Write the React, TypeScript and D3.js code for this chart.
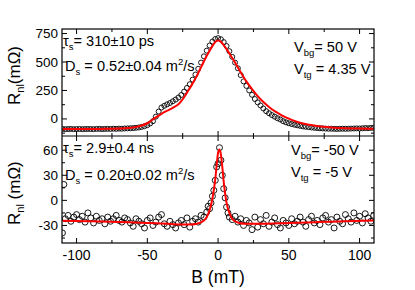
import React from "react";
import * as d3 from "d3";

// top panel: Vbg = 50 V, Vtg = 4.35 V
const topB = d3.range(-110, 111, 2);
const topR = [
  -88, -90, -89, -88, -90, -89, -88, -90, -89, -88, -89, -90, -88, -87, -89, -88, -87, -88, -86, -87,
  -85, -86, -84, -83, -82, -80, -78, -75, -70, -64, -55, -40, -20, 20, 65, 100, 115, 128, 140, 155,
  170, 188, 210, 240, 272, 305, 345, 390, 440, 495, 550, 600, 645, 680, 702, 710, 700, 675, 640, 595,
  545, 495, 445, 385, 330, 290, 250, 212, 175, 145, 118, 92, 68, 50, 34, 20, 6, -5, -20, -30,
  -38, -45, -51, -56, -61, -66, -69, -72, -75, -78, -80, -82, -83, -85, -86, -86, -87, -88, -87, -86,
  -87, -86, -85, -84, -83, -84, -82, -80, -81, -79, -78,
];
const topFitB = [-110, -100, -90, -80, -70, -60, -55, -50, -45, -40, -36, -32, -28, -24, -20, -16, -12, -8, -4, -2, 0, 2, 4, 8, 12, 16, 20, 24, 28, 32, 36, 40, 45, 50, 55, 60, 70, 80, 90, 100, 110];
const topFitR = [-88, -88, -88, -87, -84, -75, -62, -38, 5, 45, 72, 98, 128, 190, 270, 355, 455, 555, 640, 675, 688, 677, 648, 575, 495, 410, 330, 262, 200, 148, 105, 68, 32, 2, -22, -40, -62, -75, -82, -85, -86];

// bottom panel: Vbg = -50 V, Vtg = -5 V
const botB = [
  -110, -109, -108, -106, -104, -102, -100, -98, -96, -94, -92, -90, -88, -86, -84, -82, -80, -78, -76, -74,
  -72, -70, -68, -66, -64, -62, -60, -58, -56, -54, -52, -50, -48, -46, -44, -42, -40, -38, -36, -34,
  -32, -30, -28, -26, -24, -22, -20, -18, -16, -14, -12, -10, -8, -7, -6, -5, -4, -3, -2, -1,
  0, 1, 2, 3, 4, 5, 6, 7, 8, 10, 12, 14, 16, 18, 20, 22, 24, 26, 28, 30,
  32, 34, 36, 38, 40, 42, 44, 46, 48, 50, 52, 54, 56, 58, 60, 62, 64, 66, 68, 70,
  72, 74, 76, 78, 80, 82, 84, 86, 88, 90, 92, 94, 96, 98, 100, 102, 104, 106, 108, 110,
];
const botR = [
  -39, 19, -22, -18, -25, -20, -17, -23, -19, -26, -15, -21, -27, -19, -24, -22, -28, -20, -25, -22,
  -18, -24, -26, -21, -23, -27, -31, -22, -25, -28, -33, -24, -21, -30, -26, -20, -17, -28, -31, -25,
  -29, -33, -27, -24, -29, -21, -32, -25, -22, -26, -18, -20, -14, -7, -10, -3, 5, 12, 24, 40,
  44, 63, 48, 30, 14, 3, -8, -15, -20, -23, -19, -26, -22, -30, -24, -27, -35, -20, -32, -23,
  -28, -18, -31, -26, -21, -29, -33, -24, -27, -30, -22, -28, -25, -20, -26, -31, -23, -19, -27, -24,
  -29, -21, -18, -26, -23, -33, -20, -25, -28, -17, -22, -26, -15, -24, -19, -27, -16, -21, -25, -18,
];
const botFitB = [-110, -90, -70, -50, -35, -25, -20, -15, -10, -8, -6, -4, -2, -1, 0, 1, 2, 3, 4, 5, 6, 8, 10, 12, 15, 20, 30, 50, 70, 90, 110];
const botFitR = [-24.5, -25, -26, -27, -28, -29, -29, -28, -24, -20, -12, 2, 25, 42, 57, 61, 55, 40, 22, 8, -3, -15, -22, -25, -27, -28, -28, -27, -26, -25, -24];

const xMajor = [-100, -50, 0, 50, 100];
const xMinor = [-75, -25, 25, 75];
const topYMajor = [0, 250, 500, 750];
const topYMinor = [-125, 125, 375, 625];
const botYMajor = [-30, 0, 30, 60];
const botYMinor = [-45, -15, 15, 45];

const FONT = "'Liberation Sans', Arial, sans-serif";
const L = 62, R = 374, T = 29, MID = 136, B = 243;
const ANN = 14.6;

const x = d3.scaleLinear().domain([-110.3, 110.2]).range([L, R]);
const yTop = d3.scaleLinear().domain([-150, 790]).range([MID, T]);
const yBot = d3.scaleLinear().domain([-51, 77]).range([B, MID]);

function Label({ x0, y0, main, sub, rest, size }) {
  return (
    <text x={x0} y={y0} fontSize={size} fontFamily={FONT}>
      {main}
      <tspan fontSize={size * 0.65} dy={4}>{sub}</tspan>
      <tspan dy={-4}>{rest}</tspan>
    </text>
  );
}

function DLabel({ x0, y0, value }) {
  return (
    <text x={x0} y={y0} fontSize={ANN} fontFamily={FONT}>
      D<tspan fontSize={9.5} dy={4}>s</tspan>
      <tspan dy={-4}>{" = " + value + " m"}</tspan>
      <tspan fontSize={9.5} dy={-6}>2</tspan>
      <tspan dy={6}>/s</tspan>
    </text>
  );
}

function fxy(a, b) {
  return a.map((v, i) => [v, b[i]]);
}

function Panel({ y, yMajor, yMinor, top, bottom, xs, ys, fx, fy, r, id, labels }) {
  const pts = fxy(xs, ys);
  const fit = d3.line().x((d) => x(d[0])).y((d) => y(d[1])).curve(d3.curveMonotoneX)(fxy(fx, fy));
  return (
    <g>
      <defs>
        <clipPath id={id}>
          <rect x={L} y={top} width={R - L} height={bottom - top} />
        </clipPath>
      </defs>
      <g clipPath={`url(#${id})`}>
        {pts.map((d, i) => (
          <circle key={i} cx={x(d[0])} cy={y(d[1])} r={r} fill="none" stroke="#000" strokeWidth={0.9} />
        ))}
        <path d={fit} fill="none" stroke="#ff0000" strokeWidth={2} />
      </g>
      {xMajor.map((v) => (
        <g key={"xM" + v}>
          <line x1={x(v)} x2={x(v)} y1={top} y2={top + 5} stroke="#000" />
          <line x1={x(v)} x2={x(v)} y1={bottom} y2={bottom - 5} stroke="#000" />
        </g>
      ))}
      {xMinor.map((v) => (
        <g key={"xm" + v}>
          <line x1={x(v)} x2={x(v)} y1={top} y2={top + 3} stroke="#000" />
          <line x1={x(v)} x2={x(v)} y1={bottom} y2={bottom - 3} stroke="#000" />
        </g>
      ))}
      {yMajor.map((v) => (
        <g key={"yM" + v}>
          <line x1={L} x2={L + 5} y1={y(v)} y2={y(v)} stroke="#000" />
          <line x1={R} x2={R - 5} y1={y(v)} y2={y(v)} stroke="#000" />
          <text x={L - 4} y={y(v) + 4.5} textAnchor="end" fontSize={13.5} fontFamily={FONT}>{v}</text>
        </g>
      ))}
      {yMinor.map((v) => (
        <g key={"ym" + v}>
          <line x1={L} x2={L + 3} y1={y(v)} y2={y(v)} stroke="#000" />
          <line x1={R} x2={R - 3} y1={y(v)} y2={y(v)} stroke="#000" />
        </g>
      ))}
      {labels}
    </g>
  );
}

export default function App() {
  return (
    <svg width={415} height={290} style={{ position: "absolute", left: 0, top: 0, background: "#fff" }}>
      <Panel
        id="cTop" y={yTop} yMajor={topYMajor} yMinor={topYMinor} top={T} bottom={MID}
        xs={topB} ys={topR} fx={topFitB} fy={topFitR} r={2.5}
        labels={
          <g>
            <Label x0={63} y0={46} main="τ" sub="s" rest="= 310±10 ps" size={ANN} />
            <DLabel x0={65} y0={71} value="0.52±0.04" />
            <Label x0={294} y0={52} main="V" sub="bg" rest="= 50 V" size={ANN} />
            <Label x0={294} y0={74} main="V" sub="tg" rest=" = 4.35 V" size={ANN} />
          </g>
        }
      />
      <Panel
        id="cBot" y={yBot} yMajor={botYMajor} yMinor={botYMinor} top={MID} bottom={B}
        xs={botB} ys={botR} fx={botFitB} fy={botFitR} r={3}
        labels={
          <g>
            <Label x0={63} y0={153} main="τ" sub="s" rest="= 2.9±0.4 ns" size={ANN} />
            <DLabel x0={65} y0={180} value="0.20±0.02" />
            <Label x0={291} y0={155} main="V" sub="bg" rest="= -50 V" size={ANN} />
            <Label x0={291} y0={177} main="V" sub="tg" rest=" = -5 V" size={ANN} />
          </g>
        }
      />
      <rect x={L} y={T} width={R - L} height={B - T} fill="none" stroke="#000" strokeWidth={1.2} />
      <line x1={L} x2={R} y1={MID} y2={MID} stroke="#000" strokeWidth={1.2} />
      {xMajor.map((v) => (
        <text key={v} x={x(v)} y={260} textAnchor="middle" fontSize={14} fontFamily={FONT}>{v}</text>
      ))}
      <text x={x(0)} y={283} textAnchor="middle" fontSize={17.5} fontFamily={FONT}>B (mT)</text>
      <text transform="translate(20,105) rotate(-90)" fontSize={17} fontFamily={FONT}>
        R<tspan fontSize={11} dy={4}>nl</tspan>
        <tspan dy={-4}>(mΩ)</tspan>
      </text>
      <text transform="translate(20,225) rotate(-90)" fontSize={17} fontFamily={FONT}>
        R<tspan fontSize={11} dy={4}>nl</tspan>
        <tspan dy={-4}> (mΩ)</tspan>
      </text>
    </svg>
  );
}
